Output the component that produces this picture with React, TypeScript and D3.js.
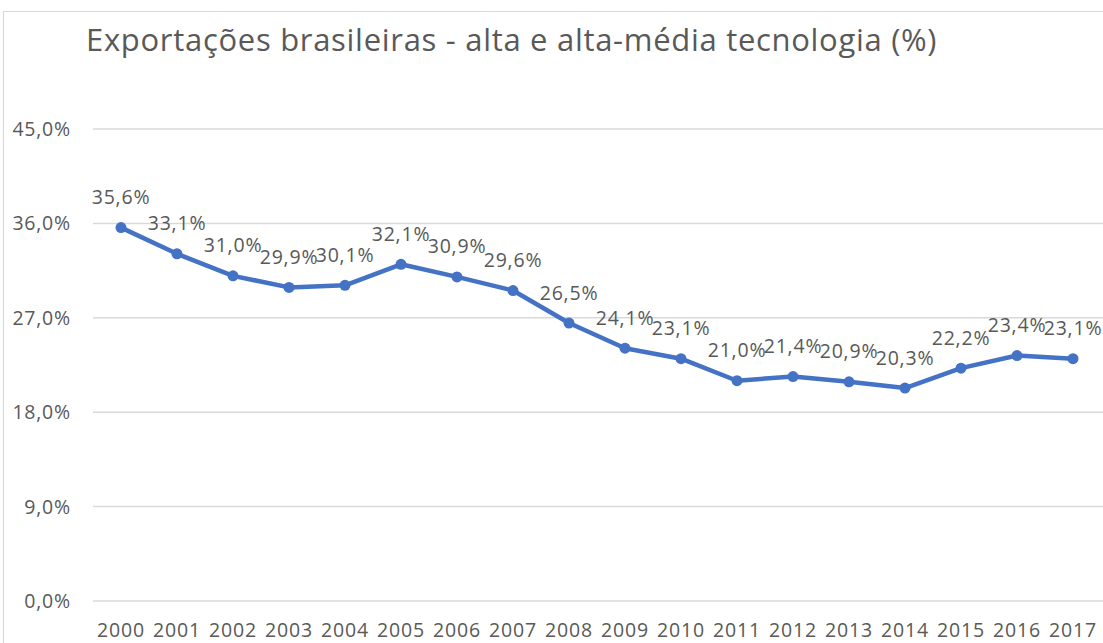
import React from "react";
import * as d3 from "d3";

const years = ["2000","2001","2002","2003","2004","2005","2006","2007","2008","2009","2010","2011","2012","2013","2014","2015","2016","2017"];
const values = [35.6, 33.1, 31.0, 29.9, 30.1, 32.1, 30.9, 29.6, 26.5, 24.1, 23.1, 21.0, 21.4, 20.9, 20.3, 22.2, 23.4, 23.1];
const yTicks = [0, 9, 18, 27, 36, 45];
const title = "Exportações brasileiras - alta e alta-média tecnologia (%)";

const W = 1103, H = 643;
const FONT = "'Open Sans', sans-serif";
const TEXT = "#595959";

export default function App() {
  const x = d3.scaleBand<string>().domain(years).range([93, 1101]);
  const y = d3.scaleLinear().domain([0, 45]).range([601, 129]);
  const fmt = (v: number) => v.toFixed(1).replace(".", ",") + "%";
  const cx = (yr: string) => (x(yr) as number) + x.bandwidth() / 2;
  const line = d3.line<number>().x((_, i) => cx(years[i])).y((d) => y(d));

  return (
    <div style={{ position: "fixed", left: 0, top: 0 }}>
      <svg width={W} height={H} style={{ display: "block", background: "#fff" }}>
        <rect x={0} y={0} width={W} height={H} fill="#fff" />
        <path d={`M3.5,${H} V11.5 H${W}`} fill="none" stroke="#D9D9D9" strokeWidth={1.2} />
        <text x={86} y={51} fontFamily={FONT} fontSize={31} letterSpacing={0.7} fill={TEXT}>{title}</text>
        {yTicks.map((t) => (
          <g key={t}>
            <line x1={93} x2={W} y1={y(t)} y2={y(t)} stroke="#D9D9D9" strokeWidth={1.5} />
            <text x={71} y={y(t)} dy="0.36em" textAnchor="end" fontFamily={FONT} fontSize={19.5} letterSpacing={0.8} fill={TEXT}>{fmt(t)}</text>
          </g>
        ))}
        {years.map((yr) => (
          <text key={yr} x={cx(yr)} y={637} textAnchor="middle" fontFamily={FONT} fontSize={19.5} letterSpacing={0.8} fill={TEXT}>{yr}</text>
        ))}
        <path d={line(values) || ""} fill="none" stroke="#4472C4" strokeWidth={4.5} strokeLinejoin="round" strokeLinecap="round" />
        {values.map((v, i) => (
          <circle key={i} cx={cx(years[i])} cy={y(v)} r={5.5} fill="#4472C4" />
        ))}
        {values.map((v, i) => (
          <text key={"l" + i} x={cx(years[i])} y={y(v) - 23.5} textAnchor="middle" fontFamily={FONT} fontSize={19.5} letterSpacing={0.8} fill={TEXT}>{fmt(v)}</text>
        ))}
      </svg>
    </div>
  );
}
